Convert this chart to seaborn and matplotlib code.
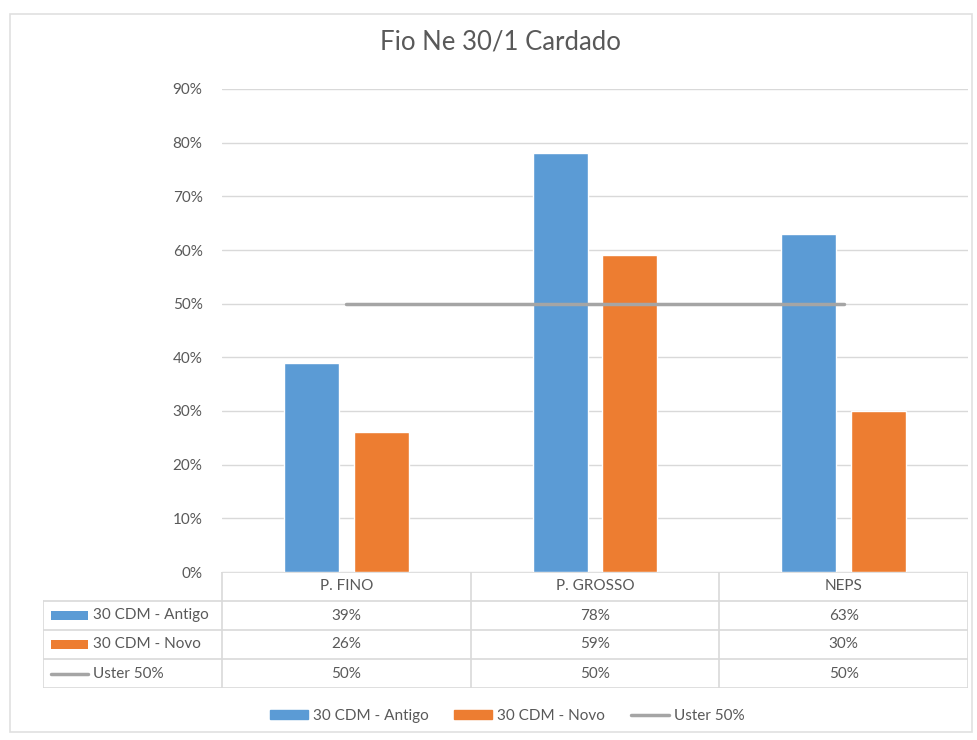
import numpy as np
import pandas as pd
import matplotlib.pyplot as plt
import seaborn as sns
from matplotlib.patches import Rectangle
from matplotlib.lines import Line2D

categories = ['P. FINO', 'P. GROSSO', 'NEPS']
antigo = [39, 78, 63]
novo = [26, 59, 30]
uster = [50, 50, 50]
series_names = ['30 CDM - Antigo', '30 CDM - Novo', 'Uster 50%']
yticks = list(range(0, 100, 10))

blue = '#5B9BD5'
orange = '#ED7D31'
gray = '#A5A5A5'
text_col = '#595959'
grid_col = '#D9D9D9'
fs = 11

sns.set_style('white')
plt.rcParams['font.family'] = ['Lato', 'DejaVu Sans']

df = pd.DataFrame({
    'Categoria': categories * 2,
    'Valor': antigo + novo,
    'Serie': [series_names[0]] * 3 + [series_names[1]] * 3,
})

W, H = 978, 740
fig = plt.figure(figsize=(W / 100, H / 100), dpi=100)

# outer chart frame
fig.patches.append(Rectangle((10 / W, 1 - 732 / H), 962 / W, 718 / H, transform=fig.transFigure,
                             fill=False, edgecolor='#E0E0E0', lw=1.2))

x0, x1 = 222, 968
y_top, y_bot = 89, 572
ax = fig.add_axes([x0 / W, 1 - y_bot / H, (x1 - x0) / W, (y_bot - y_top) / H])

sns.barplot(data=df, x='Categoria', y='Valor', hue='Serie', order=categories,
            hue_order=series_names[:2], palette=[blue, orange], width=0.56, gap=0.21,
            saturation=1, ax=ax, legend=False, zorder=2)
ax.plot(np.arange(len(categories)), uster, color=gray, lw=2.5, zorder=3)

ax.set_xlim(-0.5, len(categories) - 0.5)
ax.set_ylim(0, 90)
ax.set_yticks(yticks)
ax.set_yticklabels([f'{t}%' for t in yticks], color=text_col, fontsize=fs)
ax.tick_params(axis='y', length=0, pad=14)
ax.set_xticks([])
ax.set_xlabel('')
ax.set_ylabel('')
ax.grid(axis='y', color=grid_col, lw=1, zorder=0)
ax.set_axisbelow(True)
for s in ax.spines.values():
    s.set_visible(False)

fig.text(500 / W, 1 - 42 / H, 'Fio Ne 30/1 Cardado', ha='center', va='center',
         fontsize=18.5, color=text_col)

# data table below the plot
tab_left = 43
cat_w = (x1 - x0) / len(categories)
tax = fig.add_axes([tab_left / W, 1 - 688 / H, (x1 - tab_left) / W, (688 - y_bot) / H])
left_lim = -0.5 - (x0 - tab_left) / cat_w
tax.set_xlim(left_lim, len(categories) - 0.5)
tax.set_ylim(4, 0)
tax.axis('off')

lc = dict(color=grid_col, lw=1.2)
tax.plot([-0.5, len(categories) - 0.5], [0, 0], **lc)
for r in range(1, 5):
    tax.plot([left_lim, len(categories) - 0.5], [r, r], **lc)
tax.plot([left_lim, left_lim], [1, 4], **lc)
for c in range(len(categories) + 1):
    tax.plot([c - 0.5, c - 0.5], [0, 4], **lc)

for i, cat in enumerate(categories):
    tax.text(i, 0.5, cat, ha='center', va='center', fontsize=fs, color=text_col)
rows = [antigo, novo, uster]
for r, vals in enumerate(rows):
    for i, v in enumerate(vals):
        tax.text(i, r + 1.5, f'{v}%', ha='center', va='center', fontsize=fs, color=text_col)

# row labels with swatches
sw_x = left_lim + 8 / cat_w
sw_w = 37 / cat_w
for r, (name, col) in enumerate(zip(series_names, [blue, orange, gray])):
    yc = r + 1.5
    if r < 2:
        tax.add_patch(Rectangle((sw_x, yc - 0.16), sw_w, 0.32, color=col, lw=0))
    else:
        tax.plot([sw_x, sw_x + sw_w], [yc, yc], color=col, lw=2.5)
    tax.text(sw_x + sw_w + 5 / cat_w, yc, name, ha='left', va='center', fontsize=fs, color=text_col)

handles = [Rectangle((0, 0), 1, 1, color=blue), Rectangle((0, 0), 1, 1, color=orange),
           Line2D([0], [0], color=gray, lw=2.5)]
fig.legend(handles, series_names, loc='center', bbox_to_anchor=(507 / W, 1 - 716 / H), ncol=3,
           frameon=False, fontsize=fs, labelcolor=text_col, handlelength=2.5, handleheight=0.55,
           handletextpad=0.3, columnspacing=1.7)

fig.savefig('out.png', dpi=100)
